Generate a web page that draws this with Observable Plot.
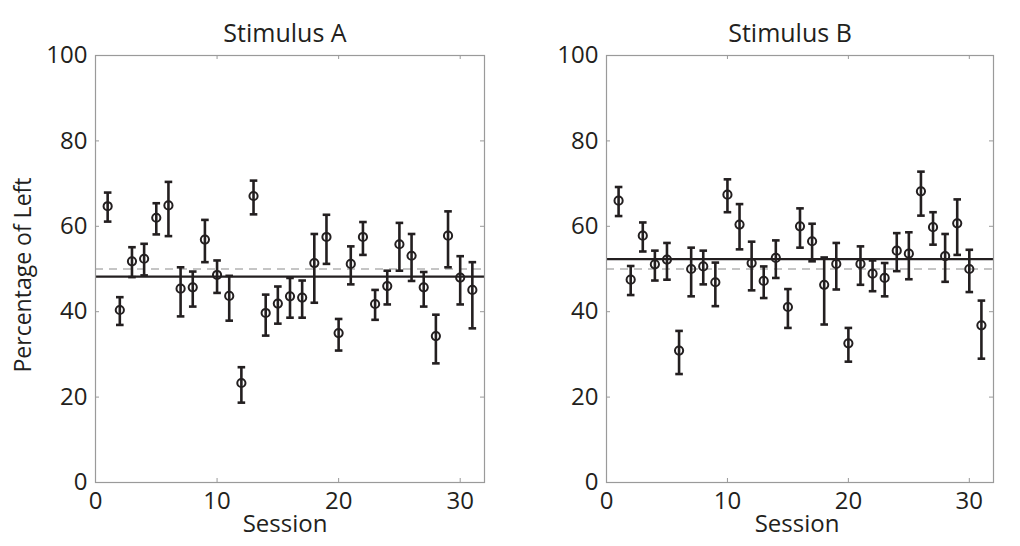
<!DOCTYPE html>
<html><head><meta charset="utf-8">
<script src="https://cdn.jsdelivr.net/npm/d3@7"></script>
<script src="https://cdn.jsdelivr.net/npm/@observablehq/plot@0.6"></script>
<style>
body{margin:0;background:#fff}
#c{display:flex;width:1020px;height:546px;overflow:hidden}
</style>
</head><body><div id="c"></div>
<script>
const sessions = [1,2,3,4,5,6,7,8,9,10,11,12,13,14,15,16,17,18,19,20,21,22,23,24,25,26,27,28,29,30,31];
const xTicks = [0,10,20,30];
const yTicks = [0,20,40,60,80,100];

const meanA = [64.7,40.4,51.8,52.4,62.0,64.9,45.4,45.7,56.9,48.6,43.7,23.3,67.1,39.7,41.9,43.6,43.3,51.4,57.5,35.0,51.2,57.5,41.8,46.0,55.8,53.1,45.7,34.3,57.8,48.0,45.1];
const hiA   = [67.9,43.4,55.1,55.9,65.4,70.4,50.4,49.4,61.5,52.0,48.4,27.0,70.7,44.0,45.9,47.9,47.3,58.2,62.7,38.3,55.3,61.0,45.1,49.6,60.8,58.2,49.3,39.3,63.5,53.0,51.6];
const loA   = [61.1,36.9,48.1,48.5,58.1,57.7,38.9,41.2,51.6,44.4,37.9,18.7,62.8,34.4,37.2,38.6,38.6,42.1,51.2,30.9,46.4,53.3,38.1,41.7,49.6,47.2,41.2,27.9,50.4,41.7,36.1];
const overallA = 48.2;

const meanB = [66.0,47.5,57.8,51.1,52.2,30.9,50.0,50.6,46.9,67.4,60.4,51.4,47.2,52.6,41.1,60.0,56.5,46.3,51.2,32.6,51.2,48.9,47.9,54.3,53.6,68.2,59.8,53.0,60.7,50.0,36.8];
const hiB   = [69.2,50.7,60.9,54.3,56.1,35.5,55.0,54.3,51.5,71.0,65.2,56.4,50.6,56.7,45.3,64.2,60.6,52.7,56.1,36.2,55.3,52.0,51.4,58.4,58.6,72.8,63.3,58.2,66.3,54.5,42.6];
const loB   = [62.4,43.9,54.1,47.3,47.5,25.4,43.6,46.4,41.3,63.3,54.6,45.0,43.2,47.9,36.2,55.0,51.8,37.0,45.2,28.3,46.3,44.8,43.6,49.5,47.6,62.5,55.7,47.0,53.3,44.6,29.0];
const overallB = 52.3;
const chance = 50;

const ink = "#231f20";
const gray = "#9a9a9a";
const cap = {draw(ctx){ ctx.moveTo(-3.8,0); ctx.lineTo(3.8,0); }};

function panel(title, vals, lo, hi, mean, o) {
  const data = sessions.map((s,i)=>({s, v: vals[i], lo: lo[i], hi: hi[i]}));
  const W = 510, H = 546, mt = 55, mb = 64;
  const plotH = H - mt - mb, plotW = W - o.ml - o.mr;
  const marks = [
    Plot.ruleY([chance], {stroke: "#b3b3b3", strokeWidth: 1.7, strokeDasharray: "8,6"}),
    Plot.ruleY([mean], {stroke: ink, strokeWidth: 2.3}),
    Plot.frame({stroke: gray, strokeWidth: 1.2}),
    Plot.ruleX(xTicks, {stroke: gray, insetTop: plotH - 4}),
    Plot.ruleX(xTicks, {stroke: gray, insetBottom: plotH - 4}),
    Plot.ruleY(yTicks, {stroke: gray, insetRight: plotW - 4}),
    Plot.ruleY(yTicks, {stroke: gray, insetLeft: plotW - 4}),
    Plot.axisX({ticks: xTicks, tickSize: 0, tickPadding: 9, label: null, fontSize: 24}),
    Plot.axisY({ticks: yTicks, tickSize: 0, tickPadding: 8, label: null, fontSize: 24}),
    Plot.ruleX(data, {x: "s", y1: "lo", y2: "hi", stroke: ink, strokeWidth: 2.6}),
    Plot.dot(data, {x: "s", y: "lo", symbol: cap, r: 4, stroke: ink, strokeWidth: 2.6, fill: "none"}),
    Plot.dot(data, {x: "s", y: "hi", symbol: cap, r: 4, stroke: ink, strokeWidth: 2.6, fill: "none"}),
    Plot.dot(data, {x: "s", y: "v", r: 4.1, stroke: ink, strokeWidth: 2, fill: "none"}),
    Plot.text([title], {frameAnchor: "top", dy: -31, dx: o.tdx, fontSize: 25, fill: ink}),
    Plot.text(["Session"], {frameAnchor: "bottom", dy: 49, dx: o.sdx, fontSize: 24, fill: ink})
  ];
  if (o.ylabel) marks.push(Plot.text([o.ylabel], {frameAnchor: "left", textAnchor: "middle", dx: -72, dy: 6, rotate: -90, fontSize: 23, fill: ink}));
  return Plot.plot({
    width: W, height: H, marginLeft: o.ml, marginRight: o.mr, marginTop: mt, marginBottom: mb,
    x: {domain: [0, 32]}, y: {domain: [0, 100]},
    style: {fontFamily: "'Open Sans', sans-serif", fontSize: "24px", color: ink, background: "#fff", overflow: "visible"},
    marks
  });
}

const c = document.getElementById("c");
c.appendChild(panel("Stimulus A", meanA, loA, hiA, overallA, {ml: 95, mr: 26, tdx: -5, sdx: -5, ylabel: "Percentage of Left"}));
c.appendChild(panel("Stimulus B", meanB, loB, hiB, overallB, {ml: 96, mr: 27, tdx: -10, sdx: -3}));
</script></body></html>
